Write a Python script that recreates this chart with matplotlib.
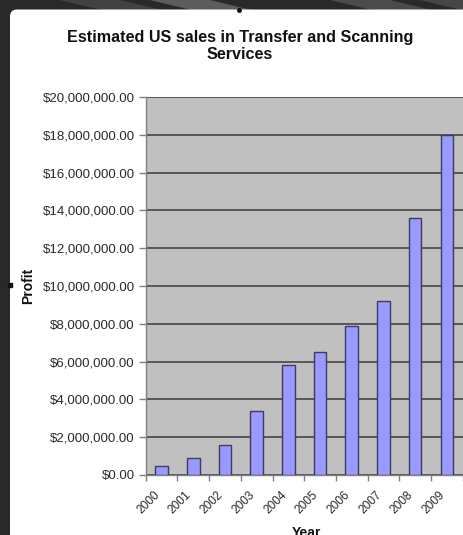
import matplotlib
matplotlib.use('Agg')
import matplotlib.pyplot as plt
from matplotlib.patches import FancyBboxPatch, Polygon
from matplotlib.ticker import FuncFormatter, FixedLocator
from matplotlib.transforms import ScaledTranslation
import numpy as np

years = ['2000', '2001', '2002', '2003', '2004', '2005', '2006', '2007', '2008', '2009']
profit = [500000, 900000, 1600000, 3400000, 5800000, 6500000, 7900000, 9200000, 13600000, 18000000]
y_ticks = [0, 2000000, 4000000, 6000000, 8000000, 10000000, 12000000, 14000000, 16000000, 18000000, 20000000]

title = 'Estimated US sales in Transfer and Scanning\nServices'
x_label = 'Year'
y_label = 'Profit'

W, H = 463, 535
fig = plt.figure(figsize=(W / 100, H / 100), dpi=100)
fig.patch.set_facecolor('#2a2828')
plt.rcParams['font.family'] = ['Liberation Sans', 'DejaVu Sans']

# background (slide) with diagonal stripes
bg = fig.add_axes([0, 0, 1, 1])
bg.set_xlim(0, W)
bg.set_ylim(H, 0)
bg.axis('off')
for x0, c in [(60, '#4a4848'), (150, '#6a6868'), (330, '#555353'), (420, '#4f4d4d')]:
    bg.add_patch(Polygon([(x0, 0), (x0 + 60, 0), (x0 + 110, 12), (x0 + 50, 12)],
                         closed=True, fc=c, ec='none', alpha=0.8))
bg.add_patch(FancyBboxPatch((10, 9.5), W + 20, H + 20,
                            boxstyle='round,pad=0,rounding_size=7',
                            fc='white', ec='none'))
# selection handles
bg.plot([239], [10], marker='o', ms=2.5, color='#111111')
bg.plot([10], [285], marker='s', ms=2.5, color='#111111')

# plot area
left, right, top, bottom = 145.7, 462.7, 97, 475
ax = fig.add_axes([left / W, (H - bottom) / H, (right - left) / W, (bottom - top) / H])
ax.set_facecolor('#c0c0c0')
x = np.arange(len(years))
ax.bar(x, profit, width=0.4, color='#9999ff', edgecolor='#3c3c5c', linewidth=1.0, zorder=3)
ax.set_xlim(-0.5, len(years) - 0.5)
ax.set_ylim(0, 20000000)
ax.yaxis.set_major_locator(FixedLocator(y_ticks))
ax.yaxis.set_major_formatter(FuncFormatter(lambda v, p: '${:,.2f}'.format(v)))
ax.grid(axis='y', color='#3a3a3a', linewidth=1.1, zorder=1)
ax.set_axisbelow(True)

# category labels (rotated), drawn at category positions on the axis
ax.set_xticks(x)
ax.set_xticklabels([])
offset = ScaledTranslation(-8 / 100, -14 / 100, fig.dpi_scale_trans)
for i, yr in enumerate(years):
    ax.text(i, 0, yr, transform=ax.get_xaxis_transform() + offset,
            rotation=45, ha='right', va='top', rotation_mode='anchor',
            fontsize=8.6, color='#2a2a2a')
ax.set_xticks(np.arange(len(years) + 1) - 0.5, minor=True)
ax.tick_params(axis='x', which='major', length=0)
ax.tick_params(axis='x', which='minor', length=4, width=1, color='#808080', direction='out')
ax.tick_params(axis='y', length=5, width=1, color='#808080', pad=3, labelsize=9.5, labelcolor='#2a2a2a')

for s in ['top', 'right']:
    ax.spines[s].set_visible(False)
for s in ['left', 'bottom']:
    ax.spines[s].set_color('#808080')
    ax.spines[s].set_linewidth(1)

fig.text(240 / W, 1 - 46 / H, title, ha='center', va='center', fontsize=11.6,
         fontweight='bold', color='#111111', linespacing=1.2)
fig.text(28 / W, 1 - 286 / H, y_label, ha='center', va='center', rotation=90,
         fontsize=10, fontweight='bold', color='#111111')
fig.text(306 / W, 1 - 533 / H, x_label, ha='center', va='center',
         fontsize=10, fontweight='bold', color='#111111')

fig.savefig('out.png', dpi=100, facecolor=fig.get_facecolor())
